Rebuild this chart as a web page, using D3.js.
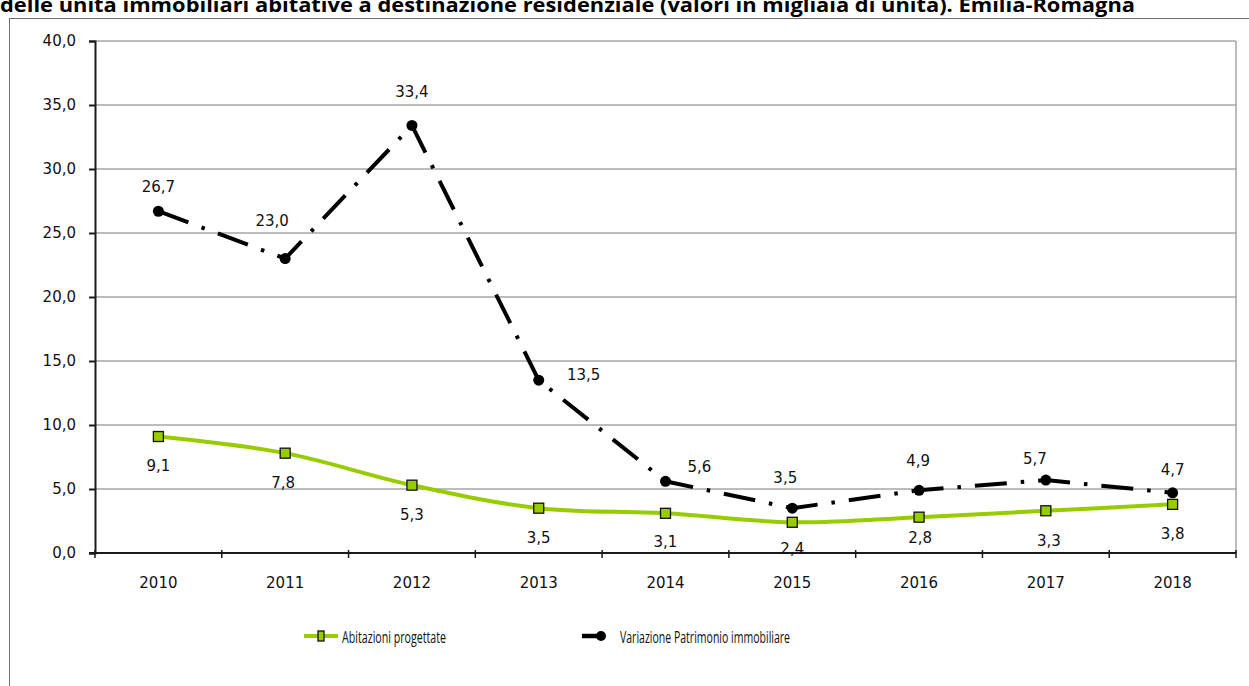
<!DOCTYPE html>
<html>
<head>
    <title>Abitazioni progettate</title>
    <script src="https://cdn.jsdelivr.net/npm/d3@7/dist/d3.min.js"></script>
    <style>
        body { margin: 0; background: white; }
    </style>
</head>
<body>
    <svg width="1249" height="686"></svg>
    <script>
        const years = ['2010','2011','2012','2013','2014','2015','2016','2017','2018'];
        const abitazioni = [9.1, 7.8, 5.3, 3.5, 3.1, 2.4, 2.8, 3.3, 3.8];
        const variazione = [26.7, 23.0, 33.4, 13.5, 5.6, 3.5, 4.9, 5.7, 4.7];
        const yTicks = [0, 5, 10, 15, 20, 25, 30, 35, 40];

        const narrow = '"Open Sans", "Liberation Sans", sans-serif';
        const tickFont = '"DejaVu Sans", Verdana, sans-serif';
        const fmt = v => v.toFixed(1).replace('.', ',');

        const svg = d3.select('svg');

        // titolo tagliato in alto
        svg.append('text')
            .attr('x', 0).attr('y', 12)
            .attr('textLength', 1135)
            .attr('lengthAdjust', 'spacingAndGlyphs')
            .style('font-family', narrow)
            .style('font-weight', 'bold')
            .style('font-size', '19px')
            .text('delle unità immobiliari abitative a destinazione residenziale (valori in migliaia di unità). Emilia-Romagna');

        // bordo del grafico
        svg.append('rect')
            .attr('x', 9.5).attr('y', 18.5)
            .attr('width', 1300).attr('height', 700)
            .attr('fill', 'none').attr('stroke', '#6e6e6e').attr('stroke-width', 1);

        const plotLeft = 95, plotRight = 1236, plotTop = 41, plotBottom = 553;

        const x = d3.scaleBand().domain(years).range([plotLeft, plotRight]);
        const y = d3.scaleLinear().domain([0, 40]).range([plotBottom, plotTop]);
        const cx = d => x(d) + x.bandwidth() / 2;

        // griglia
        svg.append('g').selectAll('line').data(yTicks.filter(d => d > 0)).join('line')
            .attr('x1', plotLeft).attr('x2', plotRight)
            .attr('y1', d => y(d)).attr('y2', d => y(d))
            .attr('stroke', '#a6a6a6').attr('stroke-width', 1.5);

        svg.append('line')
            .attr('x1', plotRight).attr('x2', plotRight).attr('y1', plotTop).attr('y2', plotBottom)
            .attr('stroke', '#a6a6a6').attr('stroke-width', 1.5);

        // asse y
        const yAxis = svg.append('g')
            .attr('transform', `translate(${plotLeft},0)`)
            .call(d3.axisLeft(y).tickValues(yTicks).tickFormat(fmt).tickSize(6).tickPadding(13));
        yAxis.select('.domain').attr('stroke', '#1a1a1a').attr('stroke-width', 2);
        yAxis.selectAll('.tick line').attr('stroke', '#1a1a1a').attr('stroke-width', 2);
        yAxis.selectAll('text').style('font-family', tickFont).style('font-size', '15px').attr('fill', '#111');

        // asse x
        const xAxis = svg.append('g')
            .attr('transform', `translate(0,${plotBottom})`)
            .call(d3.axisBottom(x).tickSize(0).tickPadding(24));
        xAxis.select('.domain').remove();
        xAxis.selectAll('text').style('font-family', tickFont).style('font-size', '15px').attr('fill', '#111');

        svg.append('line')
            .attr('x1', plotLeft - 6).attr('x2', plotRight).attr('y1', plotBottom).attr('y2', plotBottom)
            .attr('stroke', '#1a1a1a').attr('stroke-width', 2);

        const bounds = years.map(d => x(d)).concat([plotRight]);
        svg.append('g').selectAll('line').data(bounds).join('line')
            .attr('x1', d => d).attr('x2', d => d)
            .attr('y1', plotBottom - 3).attr('y2', plotBottom + 5)
            .attr('stroke', '#1a1a1a').attr('stroke-width', 1.5);

        const line = d3.line().x((d, i) => cx(years[i])).y(d => y(d));
        const smooth = d3.line().x((d, i) => cx(years[i])).y(d => y(d)).curve(d3.curveCatmullRom.alpha(0.5));

        // serie nera tratto-punto
        svg.append('path')
            .datum(variazione)
            .attr('d', line)
            .attr('fill', 'none')
            .attr('stroke', 'black')
            .attr('stroke-width', 4)
            .attr('stroke-dasharray', '32,14,3.5,14');

        svg.append('g').selectAll('circle').data(variazione).join('circle')
            .attr('cx', (d, i) => cx(years[i]))
            .attr('cy', d => y(d))
            .attr('r', 5.5)
            .attr('fill', 'black');

        const vOff = [-24, -38, -34, -5, -15, -30, -30, -21, -23];
        const vDx = [0, -13, 0, 45, 34, -7, -1, -11, 0];
        svg.append('g').selectAll('text').data(variazione).join('text')
            .attr('x', (d, i) => cx(years[i]) + vDx[i])
            .attr('y', (d, i) => y(d) + vOff[i])
            .attr('text-anchor', 'middle')
            .attr('dy', '0.35em')
            .style('font-family', tickFont).style('font-size', '15px').attr('fill', '#111')
            .text(fmt);

        // serie verde
        svg.append('path')
            .datum(abitazioni)
            .attr('d', smooth)
            .attr('fill', 'none')
            .attr('stroke', '#99cc00')
            .attr('stroke-width', 4);

        svg.append('g').selectAll('rect').data(abitazioni).join('rect')
            .attr('x', (d, i) => cx(years[i]) - 5)
            .attr('y', d => y(d) - 5)
            .attr('width', 10).attr('height', 10)
            .attr('fill', '#99cc00').attr('stroke', '#111').attr('stroke-width', 1.3);

        const aOff = [29, 30, 30, 30, 28, 26, 21, 30, 29];
        const aDx = [0, -2, 0, 0, 0, 0, 1, 3, 0];
        svg.append('g').selectAll('text').data(abitazioni).join('text')
            .attr('x', (d, i) => cx(years[i]) + aDx[i])
            .attr('y', (d, i) => y(d) + aOff[i])
            .attr('text-anchor', 'middle')
            .attr('dy', '0.35em')
            .style('font-family', tickFont).style('font-size', '15px').attr('fill', '#111')
            .text(fmt);

        // legenda
        const leg = svg.append('g');
        leg.append('line').attr('x1', 304).attr('x2', 338).attr('y1', 636).attr('y2', 636)
            .attr('stroke', '#99cc00').attr('stroke-width', 4);
        leg.append('rect').attr('x', 318).attr('y', 631).attr('width', 6).attr('height', 10)
            .attr('fill', '#99cc00').attr('stroke', '#111').attr('stroke-width', 1.3);
        leg.append('text').attr('x', 342).attr('y', 637).attr('dy', '0.35em')
            .attr('textLength', 104).attr('lengthAdjust', 'spacingAndGlyphs')
            .style('font-family', narrow).style('font-size', '17px').attr('fill', '#111')
            .text('Abitazioni progettate');

        leg.append('line').attr('x1', 582).attr('x2', 602).attr('y1', 636).attr('y2', 636)
            .attr('stroke', 'black').attr('stroke-width', 4.5);
        leg.append('circle').attr('cx', 601).attr('cy', 636).attr('r', 5).attr('fill', 'black');
        leg.append('text').attr('x', 620).attr('y', 637).attr('dy', '0.35em')
            .attr('textLength', 170).attr('lengthAdjust', 'spacingAndGlyphs')
            .style('font-family', narrow).style('font-size', '17px').attr('fill', '#111')
            .text('Variazione Patrimonio immobiliare');
    </script>
</body>
</html>
